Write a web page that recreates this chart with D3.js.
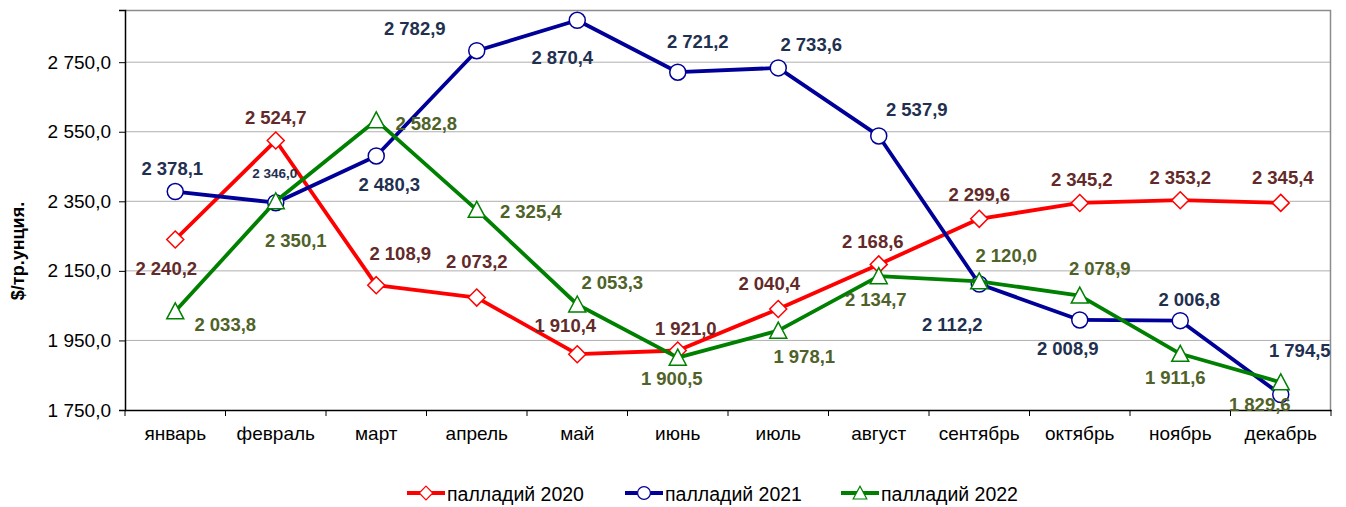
<!DOCTYPE html>
<html>
<head>
<meta charset="utf-8">
<script src="https://cdn.jsdelivr.net/npm/d3@7"></script>
<style>
  body { margin: 0; background: #fff; }
  svg { font-family: "Liberation Sans", Arial, sans-serif; }
</style>
</head>
<body>
<div id="chart"></div>
<script>
// данные
const MONTHS = ["январь", "февраль", "март", "апрель", "май", "июнь",
  "июль", "август", "сентябрь", "октябрь", "ноябрь", "декабрь"];
const Y_TICKS = [1750, 1950, 2150, 2350, 2550, 2750];

const PD_2020 = [2240.2, 2524.7, 2108.9, 2073.2, 1910.4, 1921.0, 2040.4, 2168.6, 2299.6, 2345.2, 2353.2, 2345.4];
const PD_2021 = [2378.1, 2346.0, 2480.3, 2782.9, 2870.4, 2721.2, 2733.6, 2537.9, 2112.2, 2008.9, 2006.8, 1794.5];
const PD_2022 = [2033.8, 2350.1, 2582.8, 2325.4, 2053.3, 1900.5, 1978.1, 2134.7, 2120.0, 2078.9, 1911.6, 1829.6];

// смещения подписей относительно точки (dx, dy)
const OFF_2020 = [[-9, 29], [0, -23], [24, -32], [0, -36], [-12, -29], [8, -22], [-9, -25], [-6, -23], [0, -24], [2, -23], [0, -23], [2, -25]];
const OFF_2021 = [[-3, -23], [-1, -29], [13, 29], [-62, -22], [-15, 37], [20, -31], [33, -23], [38, -26], [-27, 41], [-12, 29], [9, -21], [19, -44]];
const OFF_2022 = [[50, 13], [20, 39], [50, 3], [54, 2], [35, -22], [-6, 21], [26, 26], [-3, 23], [27, -26], [20, -27], [-5, 24], [-21, 22]];

const SERIES = [
  { name: "палладий 2020", values: PD_2020, off: OFF_2020, color: "#ff0000", label: "#632a2a", marker: "diamond" },
  { name: "палладий 2021", values: PD_2021, off: OFF_2021, color: "#000099", label: "#1f3050", marker: "circle" },
  { name: "палладий 2022", values: PD_2022, off: OFF_2022, color: "#008000", label: "#4f6228", marker: "triangle" },
];

const WIDTH = 1346;
const HEIGHT = 507;
const MARGIN = { top: 10, right: 15, bottom: 97, left: 125 };
const W = WIDTH - MARGIN.left - MARGIN.right;
const H = HEIGHT - MARGIN.top - MARGIN.bottom;

const svg = d3.select("#chart").append("svg")
  .attr("width", WIDTH).attr("height", HEIGHT);
const g = svg.append("g").attr("transform", `translate(${MARGIN.left}, ${MARGIN.top})`);

const x = d3.scaleBand().domain(MONTHS).range([0, W]);
const y = d3.scaleLinear().domain([1750, 2900]).range([H, 0]);
const fmt = v => d3.format(",.1f")(v).replace(/,/g, " ").replace(".", ",");

// сетка
g.selectAll(".grid").data(Y_TICKS.slice(1)).join("line")
  .attr("x1", 0).attr("x2", W)
  .attr("y1", d => y(d)).attr("y2", d => y(d))
  .attr("stroke", "#b0b0b0").attr("stroke-width", 1);

// рамка сверху и справа
g.append("path")
  .attr("d", `M0,0.5H${W - 0.5}V${H}`)
  .attr("fill", "none").attr("stroke", "#8c8c8c").attr("stroke-width", 1.5);

// оси
const yAxis = g.append("g").call(d3.axisLeft(y).tickValues(Y_TICKS).tickSize(6).tickFormat(fmt));
const xAxis = g.append("g").attr("transform", `translate(0, ${H})`)
  .call(d3.axisBottom(x).tickSize(0));
xAxis.selectAll(".tick").remove();
xAxis.selectAll(".xt").data(MONTHS.concat(["_end"])).join("line")
  .attr("x1", (d, i) => i * x.bandwidth()).attr("x2", (d, i) => i * x.bandwidth())
  .attr("y1", 0).attr("y2", 6).attr("stroke", "#000");
xAxis.selectAll(".xl").data(MONTHS).join("text")
  .attr("x", d => x(d) + x.bandwidth() / 2).attr("y", 30)
  .attr("text-anchor", "middle").attr("font-size", 19).attr("fill", "#000")
  .text(d => d);

[yAxis, xAxis].forEach(a => {
  a.select(".domain").attr("stroke", "#000").attr("stroke-width", 1.5);
});
yAxis.selectAll(".tick line").attr("stroke", "#000");
yAxis.selectAll(".tick text").attr("font-size", 19).attr("fill", "#000").attr("dx", -5);

svg.append("text")
  .attr("transform", `translate(18, 251) rotate(-90)`)
  .attr("text-anchor", "middle").attr("dy", "0.35em")
  .attr("font-size", 18).attr("font-weight", "bold")
  .text("$/тр.унция.");

const cx = i => x(MONTHS[i]) + x.bandwidth() / 2;

function marker(sel, type, color) {
  if (type === "circle") {
    sel.append("circle").attr("r", 8);
  } else if (type === "diamond") {
    sel.append("path").attr("d", "M0,-8.5L8.5,0L0,8.5L-8.5,0Z");
  } else {
    sel.append("path").attr("d", "M0,-8.5L8.5,7.5L-8.5,7.5Z");
  }
  sel.selectAll("circle, path").attr("fill", "#fff").attr("stroke", color).attr("stroke-width", 1.5);
}

const line = d3.line().x((d, i) => cx(i)).y(d => y(d));

SERIES.forEach(s => {
  g.append("path").datum(s.values)
    .attr("d", line).attr("fill", "none")
    .attr("stroke", s.color).attr("stroke-width", 3.8).attr("stroke-linejoin", "round");
  g.selectAll(null).data(s.values).join("g")
    .attr("transform", (d, i) => `translate(${cx(i)}, ${y(d)})`)
    .each(function () { marker(d3.select(this), s.marker, s.color); });
});

SERIES.forEach(s => {
  g.selectAll(null).data(s.values).join("text")
    .attr("x", (d, i) => cx(i) + s.off[i][0])
    .attr("y", (d, i) => y(d) + s.off[i][1])
    .attr("dy", "0.35em")
    .attr("text-anchor", "middle")
    .attr("font-size", (d, i) => (s.name === "палладий 2021" && i === 1) ? 13.5 : 18.5)
    .attr("font-weight", "bold")
    .attr("fill", s.label)
    .text(d => fmt(d));
});

// легенда
const legendX = [407, 625, 841];
const leg = svg.selectAll(".leg").data(SERIES).join("g")
  .attr("transform", (d, i) => `translate(${legendX[i]}, 493)`);
leg.append("line").attr("x1", 0).attr("x2", 38)
  .attr("stroke", d => d.color).attr("stroke-width", 3.8);
leg.each(function (d) {
  const m = d3.select(this).append("g").attr("transform", "translate(19,0) scale(0.8)");
  marker(m, d.marker, d.color);
});
leg.append("text").attr("x", 40).attr("y", 1).attr("dy", "0.35em")
  .attr("font-size", 19.5).attr("fill", "#000").text(d => d.name);
</script>
</body>
</html>
